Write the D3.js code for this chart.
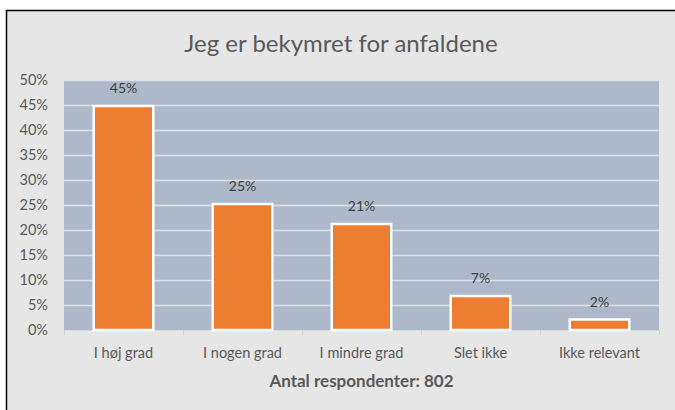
<!DOCTYPE html>
<html lang="da">
<head>
<meta charset="UTF-8">
<title>Jeg er bekymret for anfaldene</title>
<script src="https://cdn.jsdelivr.net/npm/d3@7"></script>
<style>
  html, body { margin: 0; padding: 0; background: #fff; }
  svg { display: block; font-family: Lato, "Open Sans", sans-serif; }
</style>
</head>
<body>
<div id="chart"></div>
<script>
// data
const categories = ["I høj grad", "I nogen grad", "I mindre grad", "Slet ikke", "Ikke relevant"];
const shares = [0.448, 0.252, 0.212, 0.068, 0.021];
const yTicks = [0, 0.05, 0.10, 0.15, 0.20, 0.25, 0.30, 0.35, 0.40, 0.45, 0.50];

const W = 675, H = 410;
const plot = { left: 64, right: 659, top: 80, bottom: 330 };

const svg = d3.select("#chart").append("svg")
  .attr("width", W).attr("height", H);

// chart frame
svg.append("rect")
  .attr("x", 6.5).attr("y", 10.5)
  .attr("width", W + 10).attr("height", H + 10)
  .attr("fill", "#e6e6e6")
  .attr("stroke", "#000").attr("stroke-width", 1.5);

const x = d3.scaleBand().domain(categories)
  .range([plot.left, plot.right]).paddingInner(0.5).paddingOuter(0.25);
const y = d3.scaleLinear().domain([0, 0.5]).range([plot.bottom, plot.top]);

// plot area
svg.append("rect")
  .attr("x", plot.left).attr("y", plot.top)
  .attr("width", plot.right - plot.left).attr("height", plot.bottom - plot.top)
  .attr("fill", "#adb9ca");

// gridlines
svg.append("g").selectAll("line")
  .data(yTicks.slice(1))
  .join("line")
  .attr("x1", plot.left).attr("x2", plot.right)
  .attr("y1", d => Math.round(y(d)) + 0.5).attr("y2", d => Math.round(y(d)) + 0.5)
  .attr("stroke", "#dde1e7").attr("stroke-width", 1.5);

// y axis labels
const yAxis = svg.append("g")
  .attr("transform", `translate(${plot.left},0)`)
  .call(d3.axisLeft(y).tickValues(yTicks).tickFormat(d3.format(".0%")).tickSize(0).tickPadding(16));
yAxis.select(".domain").remove();
yAxis.selectAll("text").attr("font-size", 14.5).attr("fill", "#595959")
  .attr("font-family", "Lato, sans-serif");

// x axis with light tick marks at category boundaries
const xAxis = svg.append("g").attr("transform", `translate(0,${plot.bottom})`);
xAxis.append("line")
  .attr("x1", plot.left).attr("x2", plot.right)
  .attr("y1", 0.5).attr("y2", 0.5)
  .attr("stroke", "#d9d9d9");
const step = x.step();
xAxis.selectAll(".tk")
  .data(d3.range(categories.length + 1))
  .join("line").attr("class", "tk")
  .attr("x1", i => plot.left + i * step + 0.5).attr("x2", i => plot.left + i * step + 0.5)
  .attr("y1", 0).attr("y2", 5)
  .attr("stroke", "#d0d0d0");
xAxis.selectAll("text")
  .data(categories)
  .join("text")
  .attr("x", d => x(d) + x.bandwidth() / 2)
  .attr("y", 28)
  .attr("text-anchor", "middle")
  .attr("font-size", 14.5).attr("fill", "#595959")
  .text(d => d);

// bars
svg.append("g").selectAll("rect")
  .data(shares)
  .join("rect")
  .attr("x", (d, i) => x(categories[i]))
  .attr("y", d => y(d))
  .attr("width", x.bandwidth())
  .attr("height", d => y(0) - y(d))
  .attr("fill", "#ed7d31")
  .attr("stroke", "#fff").attr("stroke-width", 2.5);

// data labels
svg.append("g").selectAll("text")
  .data(shares)
  .join("text")
  .attr("x", (d, i) => x(categories[i]) + x.bandwidth() / 2)
  .attr("y", d => y(d) - 13)
  .attr("text-anchor", "middle")
  .attr("font-size", 14).attr("fill", "#404040")
  .text(d => d3.format(".0%")(d));

// title
svg.append("text")
  .attr("x", 341).attr("y", 52)
  .attr("text-anchor", "middle")
  .attr("font-size", 24).attr("fill", "#595959")
  .text("Jeg er bekymret for anfaldene");

// axis title
svg.append("text")
  .attr("x", (plot.left + plot.right) / 2).attr("y", 387)
  .attr("text-anchor", "middle")
  .attr("font-size", 17).attr("font-weight", "bold").attr("fill", "#595959")
  .text("Antal respondenter: 802");
</script>
</body>
</html>
